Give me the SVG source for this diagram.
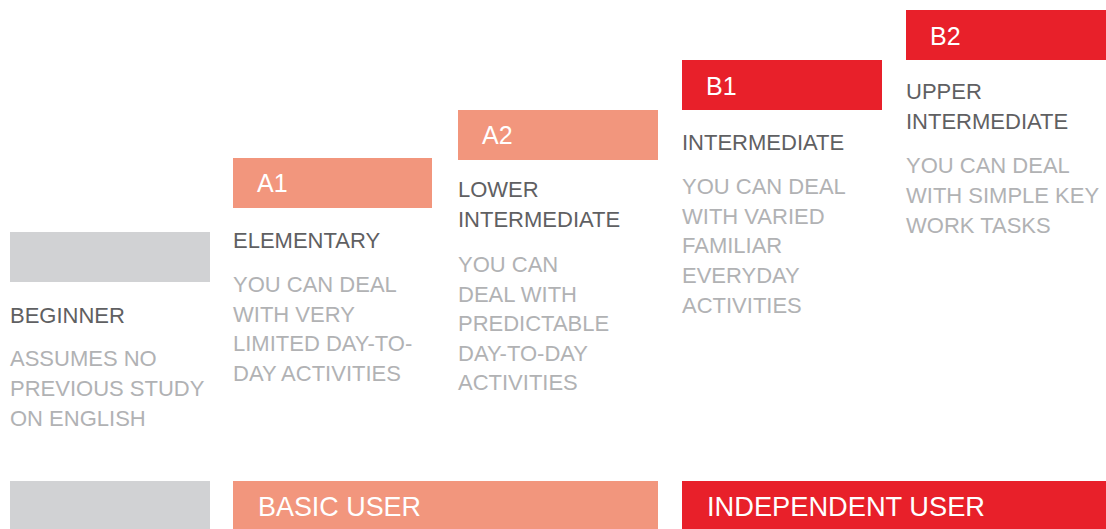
<svg xmlns="http://www.w3.org/2000/svg" width="1106" height="529" viewBox="0 0 1106 529">
<style>
.gray{fill:#d1d2d4}
.sal{fill:#f2967d}
.red{fill:#e8202a}
.code{font-family:"Liberation Sans",Arial,sans-serif;font-size:25px;fill:#fff}
.title{font-family:"Liberation Sans",Arial,sans-serif;font-size:22px;fill:#5f6062}
.desc{font-family:"Liberation Sans",Arial,sans-serif;font-size:22px;fill:#b1b2b4}
.user{font-family:"Liberation Sans",Arial,sans-serif;font-size:28px;fill:#fff}
</style>
<rect width="1106" height="529" fill="#fff"/>
<g id="beginner">
<rect class="gray" x="10" y="232" width="200" height="50"/>
<text class="title" x="10" y="323">BEGINNER</text>
<text class="desc" x="10" y="366">ASSUMES NO</text>
<text class="desc" x="10" y="396">PREVIOUS STUDY</text>
<text class="desc" x="10" y="426">ON ENGLISH</text>
</g>
<g id="a1">
<rect class="sal" x="233" y="158" width="199" height="50"/>
<text class="code" x="257" y="192">A1</text>
<text class="title" x="233" y="248">ELEMENTARY</text>
<text class="desc" x="233" y="292">YOU CAN DEAL</text>
<text class="desc" x="233" y="322">WITH VERY</text>
<text class="desc" x="233" y="351">LIMITED DAY-TO-</text>
<text class="desc" x="233" y="381">DAY ACTIVITIES</text>
</g>
<g id="a2">
<rect class="sal" x="458" y="110" width="200" height="50"/>
<text class="code" x="482" y="144">A2</text>
<text class="title" x="458" y="197">LOWER</text>
<text class="title" x="458" y="227">INTERMEDIATE</text>
<text class="desc" x="458" y="272">YOU CAN</text>
<text class="desc" x="458" y="302">DEAL WITH</text>
<text class="desc" x="458" y="331">PREDICTABLE</text>
<text class="desc" x="458" y="361">DAY-TO-DAY</text>
<text class="desc" x="458" y="390">ACTIVITIES</text>
</g>
<g id="b1">
<rect class="red" x="682" y="60" width="200" height="50"/>
<text class="code" x="706" y="95">B1</text>
<text class="title" x="682" y="150">INTERMEDIATE</text>
<text class="desc" x="682" y="194">YOU CAN DEAL</text>
<text class="desc" x="682" y="224">WITH VARIED</text>
<text class="desc" x="682" y="253">FAMILIAR</text>
<text class="desc" x="682" y="283">EVERYDAY</text>
<text class="desc" x="682" y="313">ACTIVITIES</text>
</g>
<g id="b2">
<rect class="red" x="906" y="10" width="200" height="50"/>
<text class="code" x="930" y="45">B2</text>
<text class="title" x="906" y="99">UPPER</text>
<text class="title" x="906" y="129">INTERMEDIATE</text>
<text class="desc" x="906" y="173">YOU CAN DEAL</text>
<text class="desc" x="906" y="203">WITH SIMPLE KEY</text>
<text class="desc" x="906" y="233">WORK TASKS</text>
</g>
<g id="bottom-gray"><rect class="gray" x="10" y="481" width="200" height="48"/></g>
<g id="basic-user">
<rect class="sal" x="233" y="481" width="425" height="48"/>
<text class="user" x="258" y="516" textLength="163" lengthAdjust="spacingAndGlyphs">BASIC USER</text>
</g>
<g id="independent-user">
<rect class="red" x="682" y="481" width="424" height="48"/>
<text class="user" x="707" y="516" textLength="278" lengthAdjust="spacingAndGlyphs">INDEPENDENT USER</text>
</g>
<g id="connectors"/>
</svg>
